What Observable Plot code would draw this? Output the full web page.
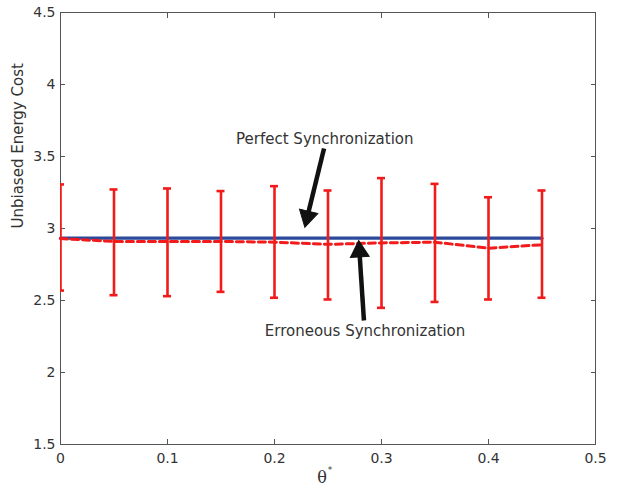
<!DOCTYPE html>
<html>
<head>
<meta charset="utf-8">
<script src="https://cdn.jsdelivr.net/npm/d3@7"></script>
<script src="https://cdn.jsdelivr.net/npm/@observablehq/plot@0.6"></script>
<style>
  html, body { margin: 0; padding: 0; background: #fff; }
  #chart svg { display: block; }
</style>
</head>
<body>
<div id="chart"></div>
<script>
// Data
const theta = [0, 0.05, 0.1, 0.15, 0.2, 0.25, 0.3, 0.35, 0.4, 0.45];
const perfect = [2.933, 2.933, 2.933, 2.933, 2.933, 2.933, 2.933, 2.933, 2.933, 2.933];
const erroneous = [2.93, 2.91, 2.91, 2.91, 2.905, 2.89, 2.90, 2.905, 2.863, 2.887];
const upper = [3.306, 3.271, 3.278, 3.26, 3.294, 3.264, 3.35, 3.31, 3.217, 3.264];
const lower = [2.569, 2.537, 2.53, 2.56, 2.519, 2.507, 2.449, 2.49, 2.507, 2.519];
const xTicks = [0, 0.1, 0.2, 0.3, 0.4, 0.5];
const yTicks = [1.5, 2, 2.5, 3, 3.5, 4, 4.5];
const labels = ["Perfect Synchronization", "Erroneous Synchronization"];
const labelX = [0.247, 0.2846];
const labelY = [3.618, 2.285];
const arrowTailX = [0.2463, 0.2836];
const arrowTailY = [3.556, 2.361];
const arrowHeadX = [0.2294, 0.279];
const arrowHeadY = [3.042, 2.882];

const W = 619, H = 489, ML = 60, MR = 24, MT = 12, MB = 45;
const xDomain = [0, 0.5], yDomain = [1.5, 4.5];
const kx = (W - ML - MR) / (xDomain[1] - xDomain[0]);
const ky = (H - MT - MB) / (yDomain[1] - yDomain[0]);

const perfectData = theta.map((x, i) => ({x, y: perfect[i]}));
const errData = theta.map((x, i) => ({x, y: erroneous[i], lo: lower[i], hi: upper[i]}));
const capHalf = 4 / kx;

const arrows = labels.map((label, i) => {
  const dxp = (arrowHeadX[i] - arrowTailX[i]) * kx;
  const dyp = -(arrowHeadY[i] - arrowTailY[i]) * ky;
  const len = Math.hypot(dxp, dyp);
  const back = 6; // pixels from tip to triangle centre
  return {
    label, tx: labelX[i], ty: labelY[i],
    x1: arrowTailX[i], y1: arrowTailY[i],
    x2: arrowHeadX[i] - (dxp / len) * back / kx,
    y2: arrowHeadY[i] + (dyp / len) * back / ky,
    rot: Math.atan2(dxp, -dyp) * 180 / Math.PI
  };
});

const red = "#f21b1b";
const blue = "#2c4a9c";
const textColor = "#333";
const font = "DejaVu Sans, Verdana, sans-serif";

const plot = Plot.plot({
  width: W,
  height: H,
  marginLeft: ML,
  marginRight: MR,
  marginTop: MT,
  marginBottom: MB,
  style: {fontFamily: font, fontSize: "14px", color: textColor, background: "#fff"},
  x: {domain: xDomain, label: null},
  y: {domain: yDomain, label: null},
  marks: [
    Plot.frame({stroke: "#555", strokeWidth: 1}),
    Plot.axisX({ticks: xTicks, tickSize: -5, tickPadding: 14, tickFormat: d => String(d), anchor: "bottom", stroke: "#555", fill: textColor, fontSize: 14}),
    Plot.axisX({ticks: xTicks, tickSize: -5, tickFormat: () => "", anchor: "top", stroke: "#555"}),
    Plot.axisY({ticks: yTicks, tickSize: -5, tickPadding: 10, tickFormat: d => String(d), anchor: "left", stroke: "#555", fill: textColor, fontSize: 14}),
    Plot.axisY({ticks: yTicks, tickSize: -5, tickFormat: () => "", anchor: "right", stroke: "#555"}),
    Plot.line(perfectData, {x: "x", y: "y", stroke: blue, strokeWidth: 3.2}),
    Plot.line(errData, {x: "x", y: "y", stroke: red, strokeWidth: 3, strokeDasharray: "7,4"}),
    Plot.ruleX(errData, {x: "x", y1: "lo", y2: "hi", stroke: red, strokeWidth: 2.6, clip: true}),
    Plot.ruleY(errData, {y: "hi", x1: d => d.x - capHalf, x2: d => d.x + capHalf, stroke: red, strokeWidth: 2.6, clip: true}),
    Plot.ruleY(errData, {y: "lo", x1: d => d.x - capHalf, x2: d => d.x + capHalf, stroke: red, strokeWidth: 2.6, clip: true}),
    Plot.link(arrows, {x1: "x1", y1: "y1", x2: "x2", y2: "y2", stroke: "#111", strokeWidth: 4.5}),
    Plot.dot(arrows, {x: "x2", y: "y2", symbol: "triangle", r: 7, rotate: "rot", fill: "#111", stroke: "#111", strokeWidth: 1}),
    Plot.text(arrows, {x: "tx", y: "ty", text: "label", fill: textColor, fontSize: 15}),
    Plot.text(["Unbiased Energy Cost"], {frameAnchor: "left", dx: -42, rotate: -90, fill: textColor, fontSize: 15}),
    Plot.text(["θ"], {frameAnchor: "bottom", dx: -6, dy: 38, fill: textColor, fontSize: 16, fontFamily: "DejaVu Serif, Liberation Serif, serif"}),
    Plot.text(["*"], {frameAnchor: "bottom", dx: 2, dy: 28, fill: textColor, fontSize: 9, fontFamily: "DejaVu Sans, sans-serif"})
  ]
});
document.getElementById("chart").appendChild(plot);
</script>
</body>
</html>
